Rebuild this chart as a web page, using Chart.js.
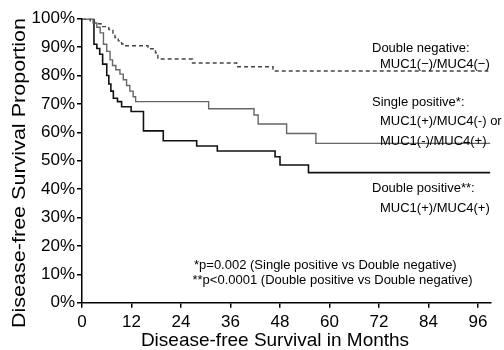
<!DOCTYPE html>
<html><head><meta charset="utf-8">
<script src="https://cdn.jsdelivr.net/npm/chart.js@4/dist/chart.umd.min.js"></script>
<style>html,body{margin:0;padding:0;background:#fff}#wrap{width:504px;height:350px;position:relative}</style>
</head><body><div id="wrap"><canvas id="c"></canvas></div>
<script>
// ---- data ----
const xTicks = [0, 12, 24, 36, 48, 60, 72, 84, 96];
const yTicks = [0, 10, 20, 30, 40, 50, 60, 70, 80, 90, 100];

// Double negative: MUC1(-)/MUC4(-)  (dashed)
const dnMonths = [0, 2.0, 3.0, 4.6, 6.5, 7.5, 8.0, 8.8, 9.6, 10.4, 16.0, 17.8, 18.4, 26.8, 37.5, 46.3, 98.5];
const dnSurv   = [100, 99, 98.2, 97.2, 96.2, 94.5, 93.4, 92.2, 91.1, 90.5, 89.4, 88.0, 85.8, 84.4, 83.1, 81.6, 81.6];

// Single positive (gray solid)
const spMonths = [0, 2.7, 3.6, 4.4, 5.2, 6.0, 6.8, 7.4, 8.2, 9.2, 10.0, 10.8, 11.6, 12.4, 13.0, 30.7, 41.7, 42.7, 49.6, 56.7, 99];
const spSurv   = [100, 98.5, 97, 95, 91, 88.5, 85.5, 83.5, 82, 80.5, 78.5, 76.5, 74.5, 72.5, 70.8, 68.3, 66.1, 62.9, 59.6, 56.1, 56.1];

// Double positive (black solid)
const dpMonths = [0, 2.9, 3.6, 4.3, 5.0, 6.0, 6.5, 7.0, 7.6, 8.6, 9.6, 11.9, 14.9, 19.7, 27.8, 32.8, 46.8, 48.0, 54.9, 99];
const dpSurv   = [100, 91, 89.5, 87.5, 84, 80, 77, 74.5, 72, 70.8, 69, 67.3, 60.5, 57, 55.2, 53.4, 51.4, 48.5, 45.8, 45.8];

const seriesLabels = ['Double negative', 'Single positive', 'Double positive'];
const xTitle = 'Disease-free Survival in Months';
const yTitle = 'Disease-free Survival Proportion';

const annotations = [
  ['Double negative:', 372, 52],
  ['MUC1(\u2212)/MUC4(\u2212)', 380, 68],
  ['Single positive*:', 372, 106],
  ['MUC1(+)/MUC4(-) or', 380, 125],
  ['MUC1(-)/MUC4(+)', 380, 145],
  ['Double positive**:', 372, 191.5],
  ['MUC1(+)/MUC4(+)', 380, 211.5],
  ['*p=0.002 (Single positive vs Double negative)', 194, 268.5],
  ['**p<0.0001 (Double positive vs Double negative)', 192.5, 283.5]
];

const FONT = '"Liberation Sans", Arial, Helvetica, sans-serif';
const toXY = (xs, ys) => xs.map((m, i) => ({x: m, y: ys[i]}));

const textPlugin = {
  id: 'texts',
  afterDraw(chart) {
    const ctx = chart.ctx;
    ctx.save();
    ctx.fillStyle = '#000';
    ctx.font = '13px ' + FONT;
    ctx.textAlign = 'left';
    ctx.textBaseline = 'alphabetic';
    annotations.forEach(([t, x, y]) => ctx.fillText(t, x, y));
    // x axis title
    ctx.font = '19px ' + FONT;
    ctx.textAlign = 'center';
    ctx.fillText(xTitle, 275, 346);
    // y axis title (rotated, stretched to the reference length)
    ctx.font = '19px ' + FONT;
    const w = ctx.measureText(yTitle).width;
    ctx.translate(25, 173);
    ctx.rotate(-Math.PI / 2);
    ctx.scale(310 / w, 1);
    ctx.fillText(yTitle, 0, 0);
    ctx.restore();
  }
};

const axisCommon = {
  grid: {display: true, drawOnChartArea: false, drawTicks: true, tickLength: 5, color: '#000', lineWidth: 1.5},
  border: {display: true, color: '#000', width: 1.5}
};

new Chart(document.getElementById('c'), {
  type: 'line',
  data: {
    datasets: [
      {label: seriesLabels[0], data: toXY(dnMonths, dnSurv), borderColor: '#444', borderWidth: 1.4, borderDash: [4, 3], stepped: 'before', pointRadius: 0, fill: false},
      {label: seriesLabels[1], data: toXY(spMonths, spSurv), borderColor: '#666', borderWidth: 1.4, stepped: 'before', pointRadius: 0, fill: false},
      {label: seriesLabels[2], data: toXY(dpMonths, dpSurv), borderColor: '#111', borderWidth: 1.6, stepped: 'before', pointRadius: 0, fill: false}
    ]
  },
  options: {
    responsive: true,
    maintainAspectRatio: false,
    animation: false,
    devicePixelRatio: 1,
    layout: {padding: {top: 18.7, right: 13.6, left: 0, bottom: 0}},
    plugins: {legend: {display: false}, tooltip: {enabled: false}},
    scales: {
      x: Object.assign({}, axisCommon, {
        type: 'linear', min: 0, max: 99,
        afterBuildTicks: s => { s.ticks = xTicks.map(v => ({value: v})); },
        afterFit: s => { s.height = 47.3; },
        ticks: {color: '#000', font: {size: 17, family: FONT}, padding: 4, maxRotation: 0, autoSkip: false}
      }),
      y: Object.assign({}, axisCommon, {
        type: 'linear', min: 0, max: 100,
        afterBuildTicks: s => { s.ticks = yTicks.map(v => ({value: v})); },
        afterFit: s => { s.width = 82; },
        ticks: {color: '#000', font: {size: 17, family: FONT}, padding: 2, callback: v => v + '%'}
      })
    }
  },
  plugins: [textPlugin]
});
</script>
</body></html>
